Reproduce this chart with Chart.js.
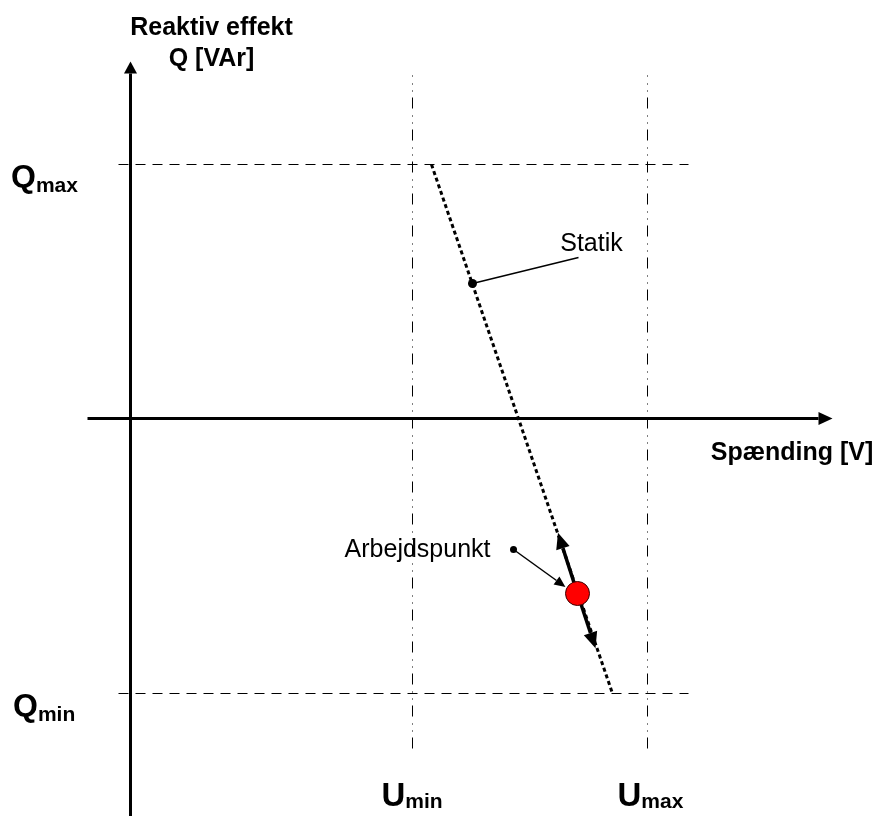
<!DOCTYPE html>
<html>
<head>
<meta charset="utf-8">
<script src="https://cdn.jsdelivr.net/npm/chart.js@4.4.1/dist/chart.umd.min.js"></script>
<style>
  body { margin: 0; background: #fff; }
  canvas { display: block; }
</style>
</head>
<body>
<canvas id="chart" width="877" height="816"></canvas>
<script>
// values, arbitrary units (origin = axes crossing)
const uLimits = [28.2, 51.7];          // Umin, Umax
const qLimits = [25.4, -27.5];         // Qmax, Qmin
const limitSpanU = [-1.2, 55.8];       // extent of the Q limit lines
const limitSpanQ = [-33, 34.3];        // extent of the U limit lines
const axisSpanU = [-4.3, 68.8];        // horizontal axis (arrow head beyond)
const axisSpanQ = [-40, 34.5];         // vertical axis (arrow head beyond)
const statikU = [30.1, 48.2];
const statikQ = [25.4, -27.5];
const statikMark = [34.2, 13.5];
const statikLabelEnd = [44.8, 16.1];
const workPoint = [44.7, -17.5];
const workUpEnd = [43.24, -12.96];
const workDownEnd = [46.0, -21.45];
const workLabelDot = [38.3, -13.1];
const workLabelEnd = [42.6, -16.2];

const pts = (us, qs) => us.map((u, i) => ({ x: u, y: qs[i] }));
const FONT = 'Arial, "Liberation Sans", sans-serif';

const line = (data, extra) => Object.assign({
  type: 'line', data, borderColor: '#000', borderWidth: 1,
  pointRadius: 0, fill: false, tension: 0
}, extra);

const datasets = [
  { type: 'scatter', data: [{ x: workPoint[0], y: workPoint[1] }], pointRadius: 12,
    backgroundColor: '#ff0000', borderColor: '#3a0000', borderWidth: 1 },
  { type: 'scatter', data: [{ x: statikMark[0], y: statikMark[1] }, { x: workLabelDot[0], y: workLabelDot[1] }],
    pointRadius: [4.5, 3.5], backgroundColor: '#000', borderColor: '#000', borderWidth: 0 },
  line(pts([workPoint[0], workUpEnd[0]], [workPoint[1], workUpEnd[1]]), { borderWidth: 3.5 }),
  line(pts([workPoint[0], workDownEnd[0]], [workPoint[1], workDownEnd[1]]), { borderWidth: 3.5 }),
  line(pts([workLabelDot[0], workLabelEnd[0]], [workLabelDot[1], workLabelEnd[1]]), { borderWidth: 1.5 }),
  line(pts([statikMark[0], statikLabelEnd[0]], [statikMark[1], statikLabelEnd[1]]), { borderWidth: 1.5 }),
  line(pts(statikU, statikQ), { borderWidth: 3, borderDash: [4, 3] }),
  line(pts(axisSpanU, [0, 0]), { borderWidth: 3 }),
  line(pts([0, 0], axisSpanQ), { borderWidth: 3 }),
  line(pts(limitSpanU, [qLimits[0], qLimits[0]]), { borderDash: [10, 7] }),
  line(pts(limitSpanU, [qLimits[1], qLimits[1]]), { borderDash: [10, 7] }),
  line(pts([uLimits[0], uLimits[0]], limitSpanQ), { borderDash: [11, 6, 1, 6, 1, 7] }),
  line(pts([uLimits[1], uLimits[1]], limitSpanQ), { borderDash: [11, 6, 1, 6, 1, 7] })
];

const decorations = {
  id: 'decorations',
  afterDatasetsDraw(chart) {
    const { ctx, scales: { x, y } } = chart;
    const px = v => x.getPixelForValue(v);
    const py = v => y.getPixelForValue(v);

    // arrow head whose base sits on `to`, pointing away from `from`
    const head = (from, to, len, half) => {
      const x0 = px(from[0]), y0 = py(from[1]);
      const x1 = px(to[0]), y1 = py(to[1]);
      ctx.save();
      ctx.translate(x1, y1);
      ctx.rotate(Math.atan2(y1 - y0, x1 - x0));
      ctx.beginPath();
      ctx.moveTo(len, 0);
      ctx.lineTo(0, -half);
      ctx.lineTo(0, half);
      ctx.closePath();
      ctx.fillStyle = '#000';
      ctx.fill();
      ctx.restore();
    };
    head([axisSpanU[0], 0], [axisSpanU[1], 0], 14, 6.5);
    head([0, axisSpanQ[0]], [0, axisSpanQ[1]], 12, 6.5);
    head(workPoint, workUpEnd, 16, 7);
    head(workPoint, workDownEnd, 16, 7);
    head(workLabelDot, workLabelEnd, 11, 5);

    ctx.save();
    ctx.fillStyle = '#000';
    ctx.textBaseline = 'alphabetic';

    const sub = (main, small, left, base, drop, big) => {
      ctx.textAlign = 'left';
      ctx.font = 'bold ' + big + 'px ' + FONT;
      ctx.fillText(main, left, base);
      const w = ctx.measureText(main).width;
      ctx.font = 'bold 21px ' + FONT;
      ctx.fillText(small, left + w, base + drop);
    };
    sub('Q', 'max', 11, py(qLimits[0]) + 22, 5, 32);
    sub('Q', 'min', 13, py(qLimits[1]) + 22, 5, 32);
    sub('U', 'min', px(uLimits[0]) - 31, 806, 2, 33);
    sub('U', 'max', px(uLimits[1]) - 30, 806, 2, 33);

    ctx.font = 'bold 25px ' + FONT;
    ctx.textAlign = 'center';
    ctx.fillText('Reaktiv effekt', px(0) + 81, 35);
    ctx.fillText('Q [VAr]', px(0) + 81, 66);
    ctx.fillText('Spænding [V]', 792, py(0) + 41);

    ctx.font = '25px ' + FONT;
    ctx.fillText('Statik', px(statikLabelEnd[0]) + 13, py(statikLabelEnd[1]) - 7);
    ctx.textAlign = 'right';
    ctx.fillText('Arbejdspunkt', px(workLabelDot[0]) - 23, py(workLabelDot[1]) + 7);
    ctx.restore();
  }
};

new Chart(document.getElementById('chart'), {
  data: { datasets },
  options: {
    responsive: false,
    animation: false,
    events: [],
    layout: { padding: 0, autoPadding: false },
    scales: {
      // half-pixel offset keeps the 1px and 3px lines crisp
      x: { type: 'linear', display: false, min: -13.05, max: 74.65 },
      y: { type: 'linear', display: false, min: -39.75, max: 41.85 }
    },
    plugins: { legend: { display: false }, tooltip: { enabled: false } }
  },
  plugins: [decorations]
});
</script>
</body>
</html>
